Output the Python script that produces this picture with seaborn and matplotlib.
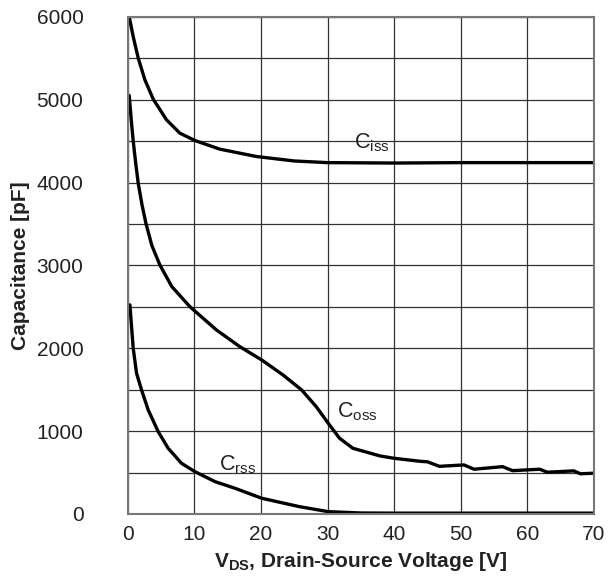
import matplotlib
matplotlib.use("Agg")
import matplotlib.pyplot as plt
import seaborn as sns
import pandas as pd

# Data
ciss_v = [0, 0.2, 0.8, 1.55, 2.55, 3.8, 5.8, 7.8, 10.06, 13.8, 19.3, 25, 30, 40, 50, 60, 70]
ciss_c = [6000, 6000, 5760, 5502, 5240, 5007, 4757, 4596, 4507, 4403, 4314, 4260, 4240, 4235, 4240, 4240, 4240]

coss_v = [0, 0.2, 0.5, 0.8, 1.15, 1.55, 2.1, 2.7, 3.6, 4.8, 6.6, 9.3, 13.3, 16.8, 20.1, 23.3, 26.1, 28.3,
          30.1, 31.8, 33.8, 37.9, 40, 44, 45, 46.8, 50.5, 52, 56.3, 57.8, 61.9, 63, 67, 68, 70]
coss_c = [5050, 5050, 4760, 4500, 4250, 3992, 3740, 3510, 3240, 3006, 2744, 2503, 2221, 2020, 1859, 1678,
          1497, 1295, 1095, 914, 793, 700, 672, 635, 630, 575, 592, 540, 571, 523, 540, 504, 520, 485, 492]

crss_v = [0, 0.3, 0.8, 1.3, 2.05, 3.05, 4.55, 6.05, 8.05, 10.06, 13.1, 16.1, 20.1, 25.8, 30.1, 35, 40, 70]
crss_c = [2500, 2523, 2000, 1699, 1497, 1256, 994, 793, 612, 511, 390, 310, 190, 88, 28, 12, 10, 10]

series_names = ["iss", "oss", "rss"]
label_pos_v = [36.6, 34.4, 16.5]
label_pos_c = [4480, 1240, 590]

x_ticks = [0, 10, 20, 30, 40, 50, 60, 70]
y_ticks = [0, 1000, 2000, 3000, 4000, 5000, 6000]

sns.set_style("white")
plt.rcParams["font.family"] = ["Liberation Sans", "DejaVu Sans"]
plt.rcParams["mathtext.fontset"] = "custom"
plt.rcParams["mathtext.rm"] = "Liberation Sans"
plt.rcParams["mathtext.it"] = "Liberation Sans:italic"
plt.rcParams["mathtext.bf"] = "Liberation Sans:bold"
plt.rcParams["mathtext.default"] = "regular"

df = pd.concat([
    pd.DataFrame({"V": ciss_v, "C": ciss_c, "s": "iss"}),
    pd.DataFrame({"V": coss_v, "C": coss_c, "s": "oss"}),
    pd.DataFrame({"V": crss_v, "C": crss_c, "s": "rss"}),
])

fig = plt.figure(figsize=(6.09, 5.87), dpi=100)
ax = fig.add_axes([0.21, 0.1244, 0.765, 0.847])

sns.lineplot(data=df, x="V", y="C", units="s", estimator=None, sort=False,
             color="black", linewidth=2.4, ax=ax)
for ln in ax.lines:
    ln.set_solid_joinstyle("round")
    ln.set_solid_capstyle("round")

ax.set_xlim(0, 70)
ax.set_ylim(0, 6000)
ax.set_xticks(x_ticks)
ax.set_yticks(y_ticks)
ax.set_yticks([500, 1500, 2500, 3500, 4500, 5500], minor=True)
ax.grid(True, which="both", color="#333333", linewidth=0.9)
ax.tick_params(axis="x", which="both", length=0, labelsize=15, colors="#222222", pad=8)
ax.tick_params(axis="y", which="both", length=0, labelsize=15, colors="#222222", pad=32)
for sp in ax.spines.values():
    sp.set_color("#777777")
    sp.set_linewidth(1.5)

for name, xv, yv in zip(series_names, label_pos_v, label_pos_c):
    ax.text(xv, yv, "C$_{%s}$" % name, fontsize=15.5, color="#222222",
            ha="center", va="center")

ax.set_xlabel(r"V$\mathbf{_{DS}}$, Drain-Source Voltage [V]", fontsize=15,
              fontweight="bold", color="#222222", labelpad=4)
ax.set_ylabel("Capacitance [pF]", fontsize=15, fontweight="bold", color="#222222", labelpad=5)

fig.savefig("out.png", dpi=100)
